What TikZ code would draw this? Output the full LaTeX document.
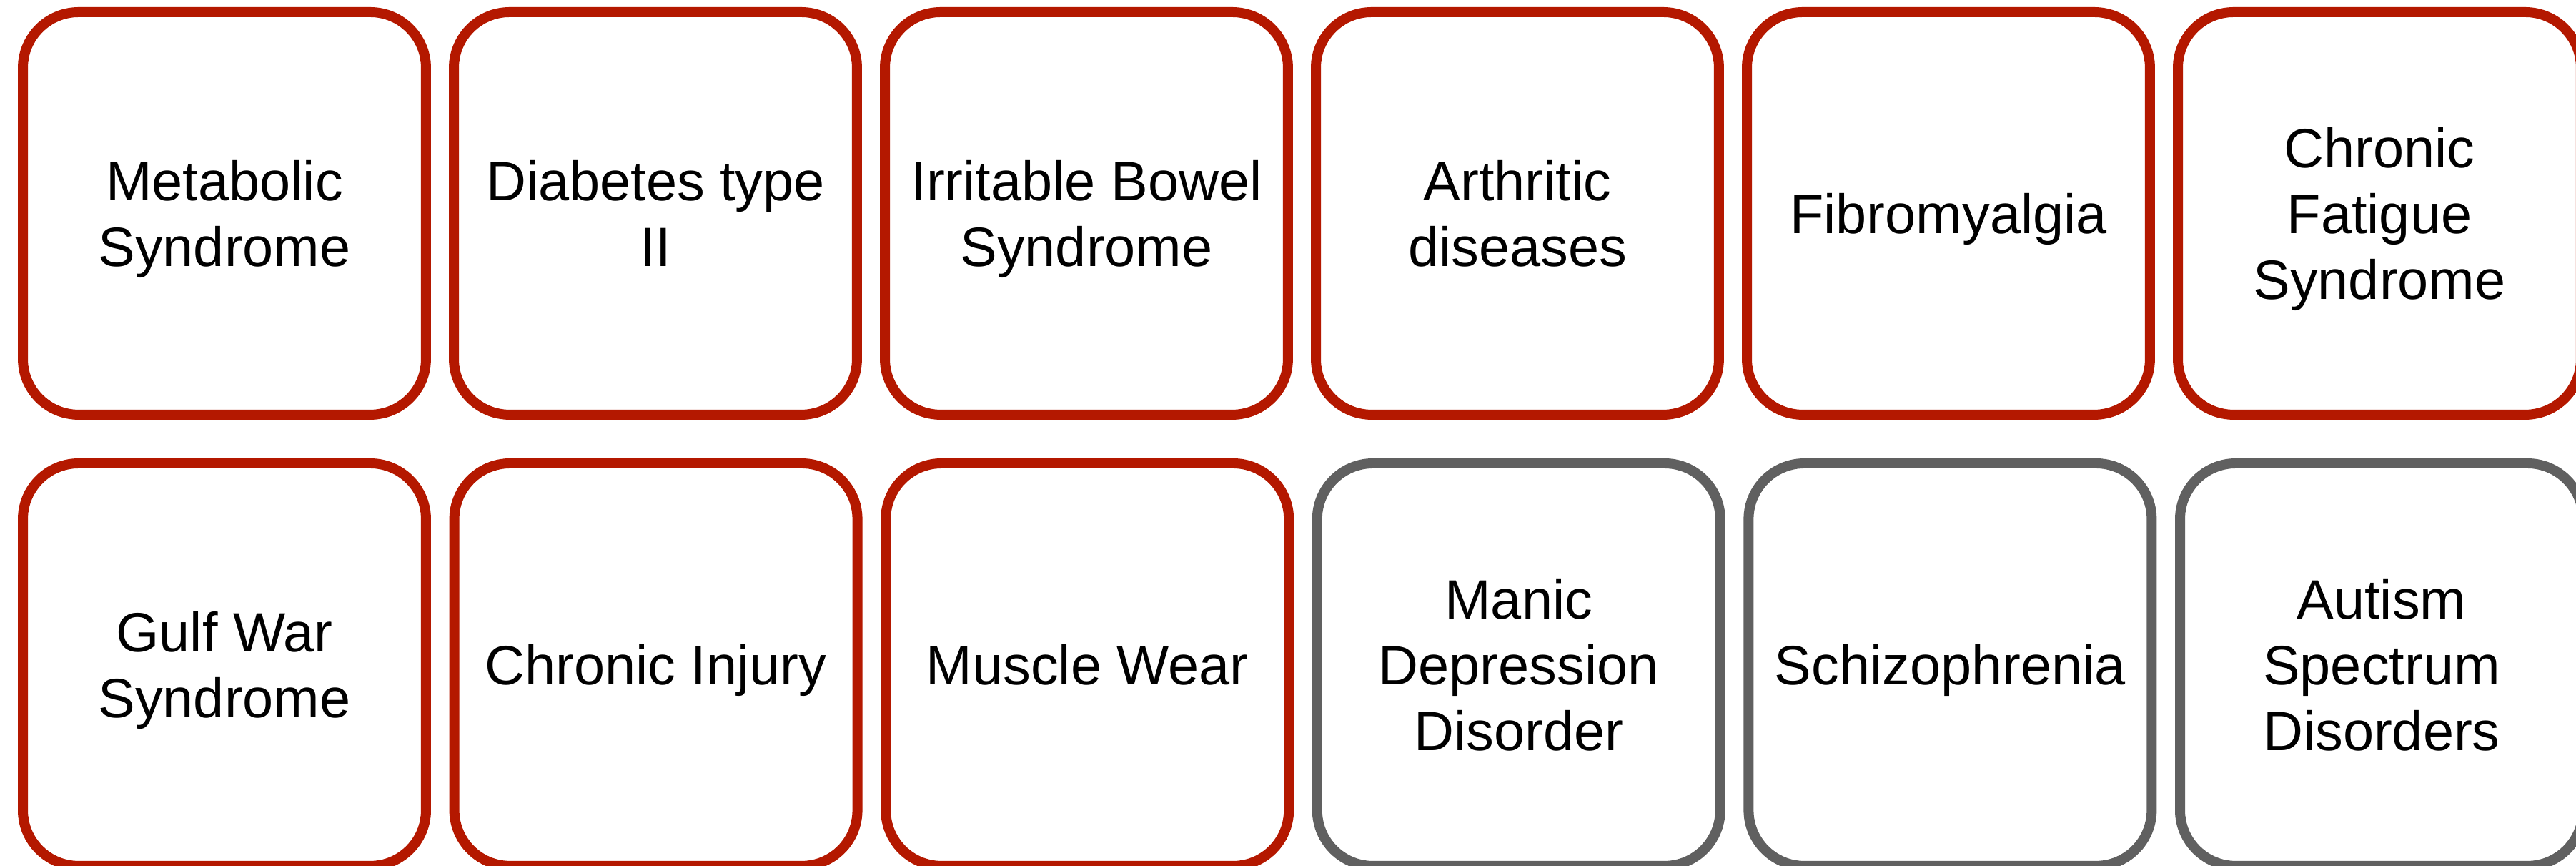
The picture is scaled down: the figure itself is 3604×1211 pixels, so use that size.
\documentclass[tikz,border=0pt]{standalone}
\usepackage{fontspec}
\setmainfont{Liberation Sans}
\usepackage{xcolor}
\usepackage{tikz}
\usetikzlibrary{positioning}
\definecolor{cardred}{RGB}{180,24,0}
\definecolor{cardgray}{RGB}{96,96,96}
\newcommand{\cardstrut}{\rule{0pt}{7.38pt}}

\begin{document}
\begin{tikzpicture}[x=0.1pt,y=-0.1pt,
        card/.style={rectangle,rounded corners=7.8pt,line width=1.4pt,fill=white,
                     minimum width=56.4pt,minimum height=56.3pt,inner sep=0pt,
                     align=center,font=\fontsize{7.75}{9.2}\selectfont,
                     execute at end node={\rule[-1.82pt]{0pt}{0pt}}},
        redcard/.style={card,draw=cardred},
        graycard/.style={card,draw=cardgray}]
        \useasboundingbox (0,0) rectangle (3604,1211);
        \foreach \i/\lbl in {1/{Metabolic\\Syndrome},2/{Diabetes type\\II},
                             3/{Irritable Bowel\\Syndrome},4/{Arthritic\\diseases},
                             5/{Fibromyalgia},6/{Chronic\\Fatigue\\Syndrome}}{
          \node[redcard] (top\i) at ({314+(\i-1)*603},298.5) {\cardstrut\lbl};
        }
        \foreach \i/\sty/\lbl in {1/redcard/{Gulf War\\Syndrome},
                                  2/redcard/{Chronic Injury},
                                  3/redcard/{Muscle Wear},
                                  4/graycard/{Manic\\Depression\\Disorder},
                                  5/graycard/{Schizophrenia},
                                  6/graycard/{Autism\\Spectrum\\Disorders}}{
          \node[\sty] (bot\i) at ({314+(\i-1)*603.6},929.5) {\cardstrut\lbl};
        }
      \end{tikzpicture}
\end{document}
